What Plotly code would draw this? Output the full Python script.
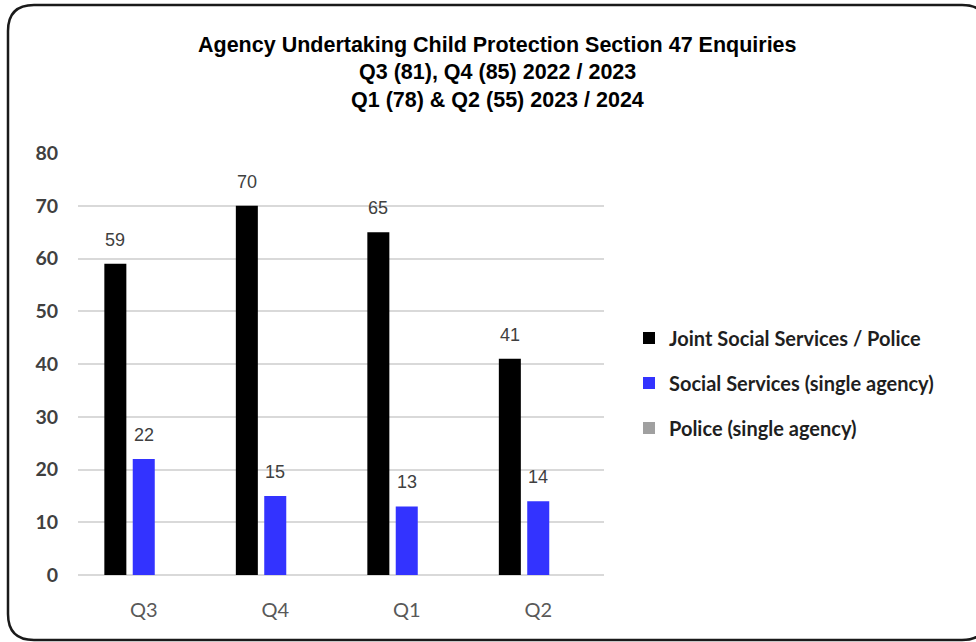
import plotly.graph_objects as go

categories = ["Q3", "Q4", "Q1", "Q2"]
joint = [59, 70, 65, 41]
social = [22, 15, 13, 14]
police = [0, 0, 0, 0]
series_names = ["Joint Social Services / Police", "Social Services (single agency)", "Police (single agency)"]
title_lines = ["Agency Undertaking Child Protection Section 47 Enquiries",
               "Q3 (81), Q4 (85) 2022 / 2023",
               "Q1 (78) & Q2 (55) 2023 / 2024"]
y_ticks = [0, 10, 20, 30, 40, 50, 60, 70, 80]

W, H = 976, 642
L, R, T, B = 78, 604, 153, 575  # plot area in pixels
pw, ph = R - L, B - T

def px2u(x):
    return (x - L) / pw

def py2v(y):
    return (B - y) / ph

colors = ["#000000", "#3333ff", "#a0a0a0"]
BARGAP = 0.352
GROUPGAP = 0.225
NARROW = "Liberation Sans Narrow, Arial Narrow, Liberation Sans, sans-serif"

fig = go.Figure()
for name, vals, col in zip(series_names, [joint, social, police], colors):
    fig.add_trace(go.Bar(
        x=categories, y=vals, name=name, legendgroup=name,
        marker=dict(color=col, line=dict(width=0)),
        hoverinfo="skip",
    ))

# data labels
slot = (pw / len(categories)) * (1 - BARGAP) / 3
for vals, shift in [(joint, -slot), (social, 0)]:
    for c, v in zip(categories, vals):
        fig.add_annotation(x=c, y=v, xref="x", yref="y", text=str(v), showarrow=False,
                           xshift=shift, yshift=12, yanchor="bottom",
                           font=dict(family=NARROW, size=18, color="#404040"))

# title
for line, ypx in zip(title_lines, [45, 72, 100]):
    fig.add_annotation(x=px2u(497), y=py2v(ypx), xref="paper", yref="paper", text=f"<b>{line}</b>",
                       showarrow=False, xanchor="center", yanchor="middle",
                       font=dict(family=NARROW, size=21.5, color="#000000"))

# rounded border
x0, x1, y0, y1, rr = 8, 988, 5, 640, 26
u0, u1 = px2u(x0), px2u(x1)
v0, v1 = py2v(y1), py2v(y0)
du, dv = rr / pw, rr / ph
path = (f"M {u0+du},{v1} L {u1-du},{v1} Q {u1},{v1} {u1},{v1-dv} "
        f"L {u1},{v0+dv} Q {u1},{v0} {u1-du},{v0} L {u0+du},{v0} "
        f"Q {u0},{v0} {u0},{v0+dv} L {u0},{v1-dv} Q {u0},{v1} {u0+du},{v1} Z")
fig.add_shape(type="path", path=path, xref="paper", yref="paper",
              line=dict(color="#1a1a1a", width=2.5), layer="above")

fig.update_layout(
    width=W, height=H,
    margin=dict(l=L, r=W - R, t=T, b=H - B, pad=0),
    paper_bgcolor="white", plot_bgcolor="white",
    barmode="group", bargap=BARGAP, bargroupgap=GROUPGAP,
    showlegend=True,
    legend=dict(x=px2u(629), y=py2v(383), xanchor="left", yanchor="middle",
                traceorder="grouped", tracegroupgap=16,
                font=dict(family="Lato, Noto Sans, sans-serif", size=20, color="#1f1f1f", weight="bold"),
                bgcolor="rgba(0,0,0,0)"),
    xaxis=dict(showgrid=False, showline=False, zeroline=False,
               ticks="outside", ticklen=17, tickcolor="rgba(0,0,0,0)",
               tickfont=dict(family="Lato, Noto Sans, sans-serif", size=20, color="#595959")),
    yaxis=dict(range=[0, 80], tickvals=y_ticks, showgrid=True, gridcolor="#d9d9d9", gridwidth=1.5,
               zeroline=True, zerolinecolor="#d9d9d9", zerolinewidth=2, showline=False,
               ticks="outside", ticklen=15, tickcolor="rgba(0,0,0,0)",
               tickfont=dict(family="Lato, Noto Sans, sans-serif", size=19.5, color="#404040", weight="bold")),
)

fig.write_html("out.html", config={"displayModeBar": False},
               post_script="document.body.style.margin='0';document.body.style.overflow='hidden';")
